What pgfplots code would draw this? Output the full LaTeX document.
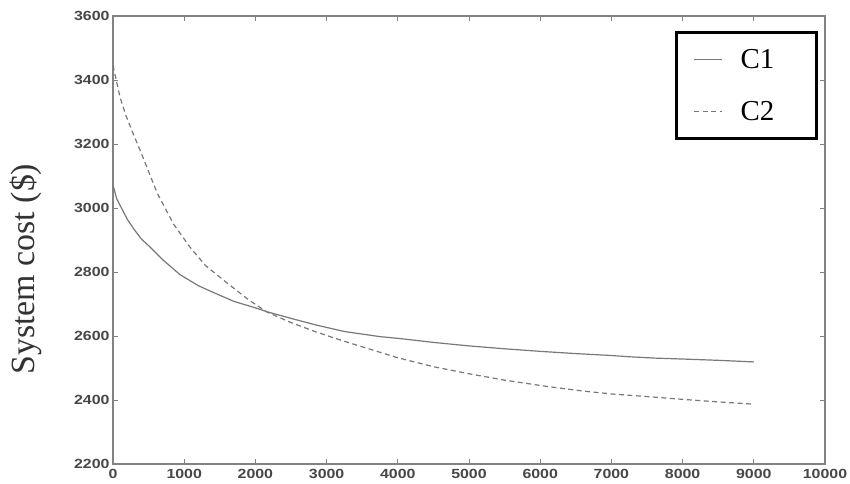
\documentclass[border=0pt]{standalone}
\usepackage{pgfplots}
\pgfplotsset{compat=1.18}
\usepackage{fontspec}
\setmainfont{Liberation Serif}
\newfontfamily\tickfont[FakeStretch=1.2]{Liberation Sans}
\definecolor{axgray}{RGB}{130,130,130}
\definecolor{lngray}{RGB}{120,120,120}
\begin{document}
\begin{tikzpicture}
\begin{axis}[
  scale only axis,
  width=712bp, height=448bp,
  xmin=0, xmax=10000, ymin=2200, ymax=3600,
  xtick={0,1000,...,10000},
  ytick={2200,2400,...,3600},
  scaled x ticks=false,
  scaled y ticks=false,
  /pgf/number format/assume math mode=true,
  xticklabel style={/pgf/number format/set thousands separator={}},
  yticklabel style={/pgf/number format/set thousands separator={}},
  tick label style={font=\tickfont\bfseries\fontsize{13.3}{14}\selectfont, text=black!72},
  xticklabel style={yshift=-2bp},
  axis line style={axgray, line width=1.3bp},
  major tick style={axgray, line width=0.9bp},
  major tick length=5bp,
  tick align=inside,
  ylabel={System cost (\$)},
  ylabel style={at={(axis description cs:-0.122,0.435)}, anchor=center, font=\fontsize{34}{36}\selectfont, text=black!80},
  legend style={at={(axis description cs:0.990,0.966)}, anchor=north east,
    draw=black, line width=2.6bp, inner xsep=17bp, inner ysep=15bp,
    font=\fontsize{29}{31}\selectfont, row sep=27bp, cells={anchor=west}},
  legend image code/.code={\draw[#1, line width=1.2bp] (0bp,0bp) -- (28bp,0bp); \path (44bp,0bp);},
]
\addplot[lngray, line width=1.2bp] coordinates {
(0,3072) (50,3030) (100,3008) (200,2965) (300,2932) (400,2903) (520,2878)
(700,2838) (940,2792) (1200,2757) (1400,2737) (1700,2708) (2000,2688)
(2160,2676) (2500,2655) (2860,2634) (3250,2614) (3750,2598) (4030,2592)
(4500,2580) (5000,2569) (5500,2560) (6000,2552) (6500,2545) (7000,2539)
(7260,2535) (7600,2531) (8000,2528) (8500,2524) (9000,2519)
};
\addlegendentry{\makebox[57bp][l]{C1}}
\addplot[lngray, line width=1.2bp, dash pattern=on 5bp off 3.5bp] coordinates {
(0,3445) (50,3395) (100,3345) (180,3290) (280,3234) (400,3170) (620,3047)
(850,2950) (1080,2878) (1300,2820) (1600,2766) (1900,2714) (2160,2675)
(2500,2642) (2860,2612) (3200,2587) (3560,2562) (4000,2532) (4500,2504)
(5000,2482) (5500,2462) (6140,2441) (6600,2428) (7000,2419) (7540,2410)
(8000,2402) (8500,2394) (9000,2387)
};
\addlegendentry{\makebox[57bp][l]{C2}}
\end{axis}
\pgfresetboundingbox
\path[use as bounding box] (-113bp,-20bp) rectangle (737bp,464bp);
\end{tikzpicture}
\end{document}
